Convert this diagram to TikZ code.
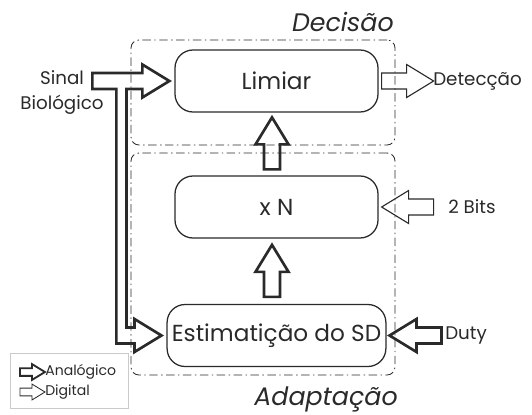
\documentclass[tikz,border=0pt]{standalone}
\usepackage{fontspec}
\setmainfont{Poppins}
\usepackage{tikz}
\usetikzlibrary{calc}
\definecolor{ink}{HTML}{2A2A2A}
\tikzset{
  bloco/.style={draw=ink, line width=0.9pt, rounded corners=0.45cm,
                minimum width=5.075cm, minimum height=1.55cm, align=center,
                font=\fontsize{16.5}{20}\selectfont, text=ink},
  moldura/.style={draw=ink, line width=0.6pt, rounded corners=0.2cm,
                  dash pattern=on 6pt off 2.5pt on 1pt off 2.5pt},
  analog/.style={draw=ink, line width=1.9pt},
  digital/.style={draw=ink, line width=0.8pt},
  rotulo/.style={font=\fontsize{13}{17.5}\selectfont, text=ink, align=center, inner sep=0pt},
  titulo/.style={font=\fontsize{18}{20}\selectfont\itshape, text=ink, inner sep=0pt},
  blk/.pic={\draw[pic actions] (0,0.2) -- (0.625,0.2) -- (0.625,0.4125)
            -- (1.3,0) -- (0.625,-0.4125) -- (0.625,-0.2) -- (0,-0.2) -- cycle;},
}
\begin{document}
\begin{tikzpicture}
    \useasboundingbox (0,0) rectangle (13.3,-10.35);
    % molduras
    \node[moldura, minimum width=6.6cm, minimum height=2.625cm] (dec) at (6.575,-2.3125) {};
    \node[moldura, minimum width=6.6cm, minimum height=5.55cm] (ada) at (6.575,-6.6) {};
    \node[titulo, anchor=east] (tdec) at (9.85,-0.55) {Decisão};
    \node[titulo, anchor=east] (tada) at (9.95,-9.975) {Adaptação};
    % blocos
    \node[bloco] (lim) at (6.9125,-2.025) {Limiar};
    \node[bloco] (xn)  at (6.9125,-5.175) {x N};
    \node[bloco] (est) at (6.9125,-8.3875) {Estimatição do SD};
    % entradas e saidas
    \node[rotulo] (sb)  at (1.55,-2.31) {Sinal\\Biológico};
    \node[rotulo, anchor=west] (det)  at (10.825,-2.025) {Detecção};
    \node[rotulo, anchor=west] (bits) at (11.2,-5.175) {2 Bits};
    \node[rotulo, anchor=west] (duty) at (11.125,-8.375) {Duty};
    \coordinate (tipL) at ($(lim.west)+(-0.125,0)$);
    \coordinate (tipE) at ($(est.west)+(-0.125,0)$);
    \draw[analog] (tipL) -- ++(-0.675,0.4125) -- ++(0,-0.2125) -- ++(-1.25,0) -- ++(0,-0.4)
        -- ++(0.6,0) |- ($(tipE)+(-0.675,-0.2)$) -- ++(0,-0.2125) -- (tipE)
        -- ++(-0.675,0.4125) -- ++(0,-0.2125) -- ++(-0.2,0) |- ($(tipL)+(-0.675,-0.2)$)
        -- ++(0,-0.2125) -- cycle;
    \pic[analog, rotate=90] at ($(xn.north)+(-0.1125,0.15)$) {blk};
    \pic[analog, rotate=90] at ($(est.north)+(-0.1125,0.175)$) {blk};
    \pic[digital] at ($(lim.east)+(0.075,0)$) {blk};
    \pic[digital, rotate=180] at ($(xn.east)+(1.375,0)$) {blk};
    \pic[analog, rotate=180] at ($(est.east)+(1.375,0)$) {blk};
    % legenda
    \node[draw=ink!25, line width=0.4pt, minimum width=2.95cm, minimum height=1.375cm] (leg) at (1.725,-9.5125) {};
    \pic[analog, line width=1.3pt, scale=0.48] at (0.5,-9.3) {blk};
    \pic[digital, line width=0.6pt, scale=0.48] at (0.5,-9.8) {blk};
    \node[anchor=west, inner sep=0pt, font=\fontsize{10}{11}\selectfont, text=ink] (lana) at (1.125,-9.3) {Analógico};
    \node[anchor=west, inner sep=0pt, font=\fontsize{10}{11}\selectfont, text=ink] (ldig) at (1.125,-9.8) {Digital};
\end{tikzpicture}
\end{document}
